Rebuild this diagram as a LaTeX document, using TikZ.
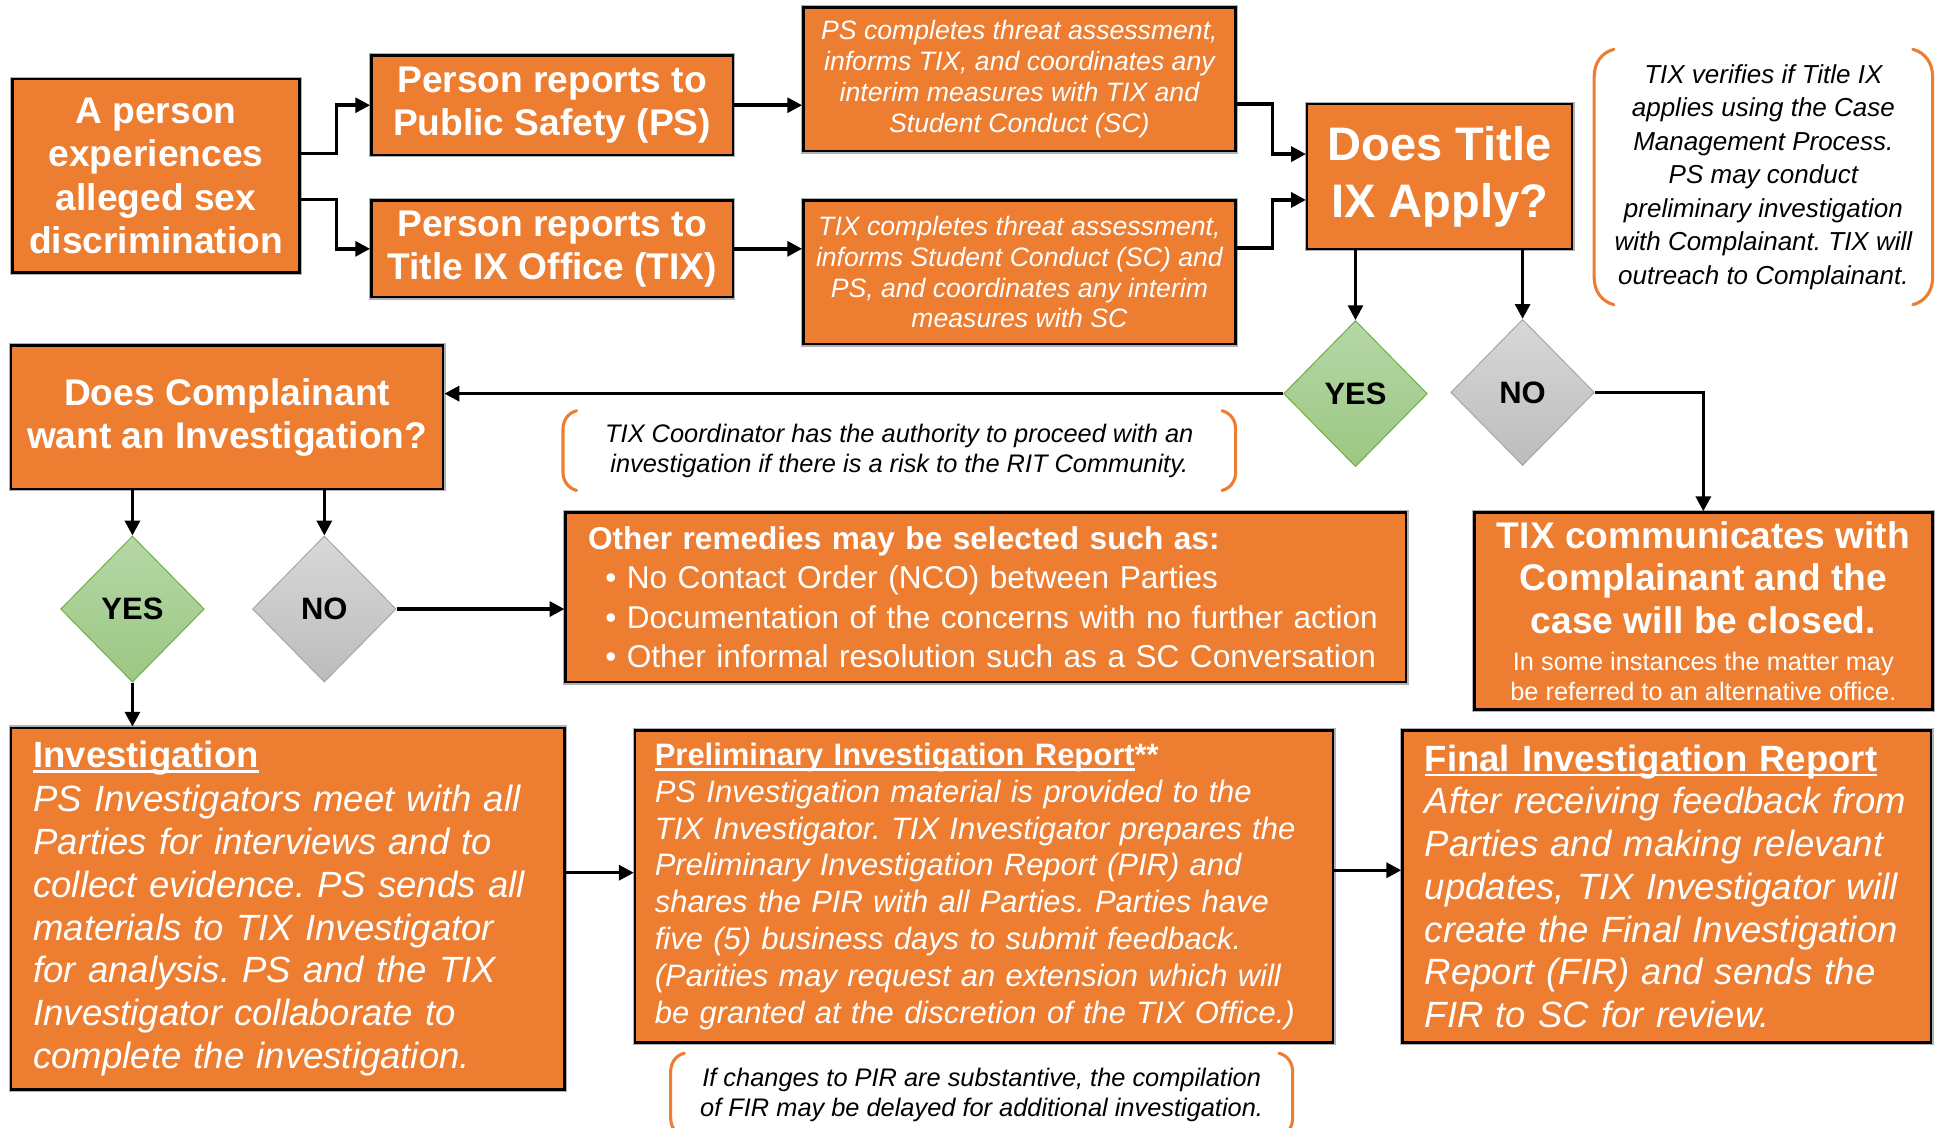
\documentclass[tikz,border=0pt]{standalone}
\usepackage{fontspec}
\setmainfont{Liberation Sans}
\usetikzlibrary{shapes.geometric,arrows.meta,calc}
\definecolor{orng}{HTML}{ED7D31}
\definecolor{gtop}{HTML}{B6D7A6}
\definecolor{gbot}{HTML}{9CC783}
\definecolor{gedge}{HTML}{70AD47}
\definecolor{ntop}{HTML}{D8D8D8}
\definecolor{nbot}{HTML}{BCBCBC}
\definecolor{nedge}{HTML}{A6A6A6}
\newcommand{\myul}[1]{\setbox0=\hbox{#1}\rlap{\rule[-4pt]{\wd0}{2pt}}\box0}
\frenchspacing
\begin{document}
\begin{tikzpicture}[x=1pt,y=-1pt,
  box/.style={draw=black, line width=2pt, fill=orng, text=white, inner sep=0pt,
    preaction={draw=black!30, line width=4pt}},
  cbox/.style={box, align=center},
  lbox/.style={box, align=left, inner xsep=18pt, inner ysep=0pt},
  arr/.style={line width=2.8pt, -{Triangle[length=12pt,width=12pt]}},
  yesd/.style={diamond, draw=gedge, line width=0.8pt, top color=gtop, bottom color=gbot,
    minimum width=116pt, minimum height=118pt, inner sep=0pt, font=\fontsize{25}{30}\selectfont\bfseries},
  nod/.style={diamond, draw=nedge, line width=0.8pt, top color=ntop, bottom color=nbot,
    minimum width=116pt, minimum height=118pt, inner sep=0pt, font=\fontsize{25}{30}\selectfont\bfseries},
  note/.style={align=center, inner sep=0pt, text=black},
  brk/.style={draw=orng, line width=2.5pt, line cap=round}
]
\useasboundingbox (0,0) rectangle (1568,911.2);

% top row
\node[cbox, minimum width=232pt, minimum height=156pt, font=\fontsize{30}{35}\selectfont\bfseries] (A) at (126,142)
  {A person\\ experiences\\ alleged sex\\ discrimination};
\node[cbox, minimum width=292pt, minimum height=80pt, font=\fontsize{30}{35}\selectfont\bfseries] (PS) at (446,85)
  {Person reports to\\ Public Safety (PS)};
\node[cbox, minimum width=292pt, minimum height=78pt, font=\fontsize{30}{35}\selectfont\bfseries] (TIX) at (446,201)
  {Person reports to\\ Title IX Office (TIX)};
\node[cbox, minimum width=349pt, minimum height=116pt, font=\fontsize{21.5}{25}\selectfont\itshape] (PSc) at (823.5,64)
  {PS completes threat assessment,\\ informs TIX, and coordinates any\\ interim measures with TIX and\\ Student Conduct (SC)};
\node[cbox, minimum width=349pt, minimum height=116pt, font=\fontsize{21.5}{24.7}\selectfont\itshape] (TIXc) at (823.5,220)
  {TIX completes threat assessment,\\ informs Student Conduct (SC) and\\ PS, and coordinates any interim\\ measures with SC};
\node[cbox, minimum width=214pt, minimum height=117pt, font=\fontsize{38}{46}\selectfont\bfseries] (Q1) at (1163,142.5)
  {Does Title\\ IX Apply?};
\node[note, minimum width=273pt, minimum height=206pt, font=\fontsize{21}{27}\selectfont\itshape] (n1) at (1424.5,143)
  {TIX verifies if Title IX\\ applies using the Case\\ Management Process.\\ PS may conduct\\ preliminary investigation\\ with Complainant. TIX will\\ outreach to Complainant.};

% diamonds row 1
\node[yesd] (Y1) at (1095,318) {YES};
\node[nod] (N1) at (1230,317) {NO};

% second row
\node[cbox, minimum width=349pt, minimum height=116pt, font=\fontsize{30}{35}\selectfont\bfseries] (Q2) at (183.5,337)
  {Does Complainant\\ want an Investigation?};
\node[note, minimum width=543pt, minimum height=64pt, font=\fontsize{20.5}{24}\selectfont\itshape] (n2) at (726.5,364)
  {TIX Coordinator has the authority to proceed with an\\ investigation if there is a risk to the RIT Community.};

\node[yesd] (Y2) at (107,492) {YES};
\node[nod] (N2) at (262,492) {NO};

\node[lbox, text width=643pt, minimum height=137pt, font=\fontsize{25.5}{31.7}\selectfont] (O) at (796.5,482.5)
  {\textbf{Other remedies may be selected such as:}\\
   \hspace*{14pt}• No Contact Order (NCO) between Parties\\
   \hspace*{14pt}• Documentation of the concerns with no further action\\
   \hspace*{14pt}• Other informal resolution such as a SC Conversation};

\node[cbox, minimum width=370pt, minimum height=159pt, font=\fontsize{30}{34.5}\selectfont\bfseries] (C) at (1376,493.5)
  {TIX communicates with\\ Complainant and the\\ case will be closed.\\[-4.5pt]
   {\fontsize{20.5}{24}\selectfont\mdseries In some instances the matter may}\\[-10.5pt]
   {\fontsize{20.5}{24}\selectfont\mdseries be referred to an alternative office.}};

% bottom row
\node[lbox, text width=411pt, minimum width=447pt, minimum height=292pt, font=\fontsize{29.5}{34.5}\selectfont\itshape] (Inv) at (232.5,734)
  {{\upshape\bfseries\myul{Investigation}}\\[1pt]
   PS Investigators meet with all\\ Parties for interviews and to\\ collect evidence. PS sends all\\ materials to TIX Investigator\\ for analysis. PS and the TIX\\ Investigator collaborate to\\ complete the investigation.};
\node[lbox, text width=532pt, inner xsep=16pt, minimum width=564pt, minimum height=252pt, font=\fontsize{25}{29.7}\selectfont\itshape] (PIR) at (795,716)
  {{\upshape\bfseries\myul{Preliminary Investigation Report}**}\\
   PS Investigation material is provided to the\\ TIX Investigator. TIX Investigator prepares the\\ Preliminary Investigation Report (PIR) and\\ shares the PIR with all Parties. Parties have\\ five (5) business days to submit feedback.\\ (Parities may request an extension which will\\ be granted at the discretion of the TIX Office.)};
\node[lbox, text width=391pt, minimum width=427pt, minimum height=252pt, font=\fontsize{29.5}{34.5}\selectfont\itshape] (F) at (1346.5,716)
  {{\upshape\bfseries\myul{Final Investigation Report}}\\
   After receiving feedback from\\ Parties and making relevant\\ updates, TIX Investigator will\\ create the Final Investigation\\ Report (FIR) and sends the\\ FIR to SC for review.};
\node[note, minimum width=502pt, minimum height=67pt, font=\fontsize{20.5}{24}\selectfont\itshape] (n3) at (793,884.5)
  {If changes to PIR are substantive, the compilation\\ of FIR may be delayed for additional investigation.};

% brackets
\draw[brk] ([xshift=16pt]n1.north west) to[out=195,in=90] ([yshift=-22pt]n1.north west) -- ([yshift=22pt]n1.south west) to[out=-90,in=165] ([xshift=16pt]n1.south west);
\draw[brk] ([xshift=-16pt]n1.north east) to[out=-15,in=90] ([yshift=-22pt]n1.north east) -- ([yshift=22pt]n1.south east) to[out=-90,in=15] ([xshift=-16pt]n1.south east);
\draw[brk] ([xshift=11pt]n2.north west) to[out=195,in=90] ([yshift=-15pt]n2.north west) -- ([yshift=15pt]n2.south west) to[out=-90,in=165] ([xshift=11pt]n2.south west);
\draw[brk] ([xshift=-11pt]n2.north east) to[out=-15,in=90] ([yshift=-15pt]n2.north east) -- ([yshift=15pt]n2.south east) to[out=-90,in=15] ([xshift=-11pt]n2.south east);
\draw[brk] ([xshift=11pt]n3.north west) to[out=195,in=90] ([yshift=-15pt]n3.north west) -- ([yshift=15pt]n3.south west) to[out=-90,in=165] ([xshift=11pt]n3.south west);
\draw[brk] ([xshift=-11pt]n3.north east) to[out=-15,in=90] ([yshift=-15pt]n3.north east) -- ([yshift=15pt]n3.south east) to[out=-90,in=15] ([xshift=-11pt]n3.south east);

% connectors
\draw[arr] ([yshift=18pt]A.east) -- ++(29pt,0) |- (PS.west);
\draw[arr] ([yshift=-19pt]A.east) -- ++(29pt,0) |- (TIX.west);
\draw[arr] (PS.east) -- (PS.east -| PSc.west);
\draw[arr] (TIX.east) -- (TIX.east -| TIXc.west);
\draw[arr] ([yshift=-20pt]PSc.east) -- ++(29pt,0) |- ([yshift=18pt]Q1.west);
\draw[arr] ([yshift=19.5pt]TIXc.east) -- ++(29pt,0) |- ([yshift=-19pt]Q1.west);
\draw[arr] (Q1.south -| Y1.north) -- (Y1.north);
\draw[arr] (Q1.south -| N1.north) -- (N1.north);
\draw[arr] (Y1.west) -- (Y1.west -| Q2.east);
\draw[arr] (N1.east) -| (C.north);
\draw[arr] (Q2.south -| Y2.north) -- (Y2.north);
\draw[arr] (Q2.south -| N2.north) -- (N2.north);
\draw[arr] (N2.east) -- (N2.east -| O.west);
\draw[arr] (Y2.south) -- (Y2.south |- Inv.north);
\draw[arr] ([yshift=29pt]Inv.east) -- ([yshift=29pt]Inv.east -| PIR.west);
\draw[arr] ([yshift=13pt]PIR.east) -- ([yshift=13pt]PIR.east -| F.west);
\end{tikzpicture}
\end{document}
